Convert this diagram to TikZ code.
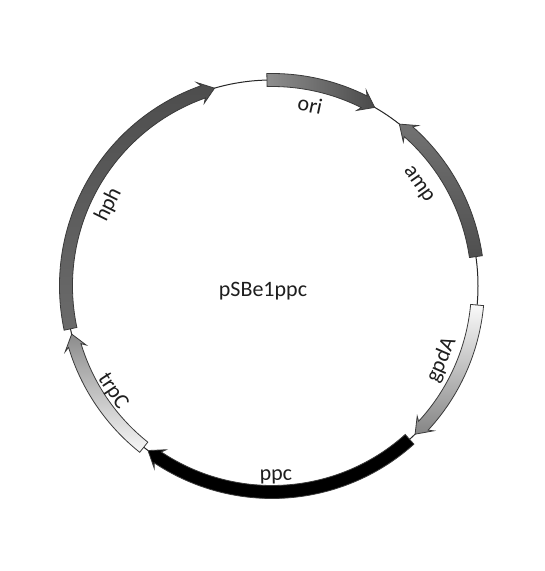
\documentclass[tikz,border=0pt]{standalone}
\usepackage{fontspec}
\setmainfont{Carlito}
\definecolor{outl}{HTML}{3A3A3A}
\definecolor{txt}{HTML}{1E1E1E}
\definecolor{hphA}{HTML}{4D4D4D}
\definecolor{hphB}{HTML}{6B6B6B}
\definecolor{oriA}{HTML}{8E8E8E}
\definecolor{oriB}{HTML}{4A4A4A}
\definecolor{ampA}{HTML}{727272}
\definecolor{ampB}{HTML}{4F4F4F}
\definecolor{gpdA}{HTML}{FAFAFA}
\definecolor{gpdB}{HTML}{858585}
\definecolor{trpA}{HTML}{8C8C8C}
\definecolor{trpB}{HTML}{F7F7F7}
\def\Rm{206pt}
\def\Ro{212.5pt}
\def\Ri{199.5pt}
\def\Rh{217pt}
\def\Rl{195pt}
\newcommand{\genearrow}[5]{%
  \pgfmathsetmacro{\hb}{#3+(#4)}%
  \pgfmathsetmacro{\hwb}{#3+1.25*(#4)}%
  \path[genebox,#5] (#2:\Ro) arc[start angle=#2, end angle=\hb, radius=\Ro]
    -- (\hwb:\Rh) -- (#3:\Rm) coordinate (#1tip) -- (\hwb:\Rl) -- (\hb:\Ri)
    arc[start angle=\hb, end angle=#2, radius=\Ri] -- cycle;}
\tikzset{
  genebox/.style={draw=outl, line width=0.8pt, line join=miter},
  backbone/.style={draw=black!85, line width=1pt},
  lab/.style={text=txt, font=\fontsize{22}{26}\selectfont, inner sep=0pt},
}
\begin{document}
\begin{tikzpicture}[x=1pt,y=1pt]
\useasboundingbox[fill=white] (0,0) rectangle (545,571);
\begin{scope}[shift={(272,285)}]
  \draw[backbone] (0,0) circle[radius=\Rm];
  \genearrow{hph}{192}{106.2}{3.3}{top color=hphA, bottom color=hphB}
  \genearrow{ori}{91.4}{60.1}{3.3}{left color=oriA, right color=oriB}
  \genearrow{amp}{8.2}{51.8}{-3.3}{top color=ampA, bottom color=ampB}
  \genearrow{gpd}{-5.3}{-46}{3.3}{top color=gpdA, bottom color=gpdB}
  \genearrow{ppc}{-48.1}{-127}{3.3}{fill=black}
  \genearrow{trp}{231.5}{193.5}{3.3}{top color=trpA, bottom color=trpB}
  \node[lab, rotate=-12] (lori) at (78.1:185pt) {ori};
  \node[lab, rotate=-55] (lamp) at (34.7:177.5pt) {amp};
  \node[lab, rotate=63.6] (lhph) at (153.6:182.5pt) {hph};
  \node[lab, rotate=-56.6] (ltrp) at (213.4:191pt) {trpC};
  \node[lab, rotate=66.4] (lgpd) at (-23.6:185pt) {gpdA};
  \node[lab, rotate=1.2] (lppc) at (-88.8:191pt) {ppc};
  \node[lab] (title) at (-9,-5) {pSBe1ppc};
\end{scope}
\end{tikzpicture}
\end{document}
